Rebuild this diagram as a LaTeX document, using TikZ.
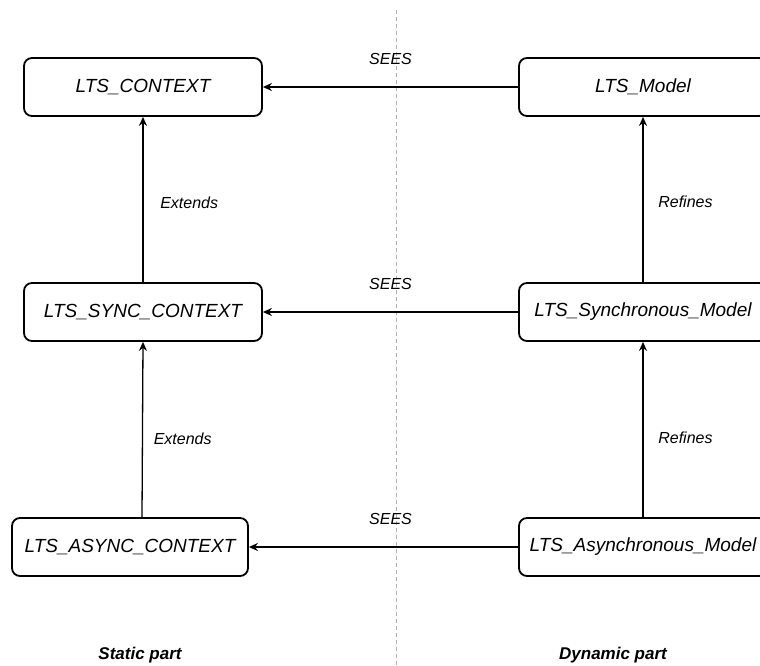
\documentclass[tikz,border=0pt]{standalone}
\usepackage{fontspec}
\setmainfont{Liberation Sans}
\usetikzlibrary{arrows.meta}
\newcommand{\boxFont}[0]{\fontsize{9.5}{11}\selectfont\itshape}
\newcommand{\labelFont}[0]{\fontsize{8}{10}\selectfont\itshape}

\begin{document}
\begin{tikzpicture}[x=0.5pt, y=-0.5pt]
  \tikzset{box/.style={draw, line width=0.9pt, rounded corners=4pt, minimum width=119pt,
                       minimum height=29pt, font=\boxFont},
           arr/.style={line width=0.65pt, -{Stealth[length=4.5pt,width=4pt]}},
           lbl/.style={font=\labelFont},
           part/.style={font=\fontsize{8.5}{10}\selectfont\bfseries\itshape}}
  \useasboundingbox (0,0) rectangle (760,665);
  \draw[gray!60, line width=0.5pt, dash pattern=on 2pt off 1.5pt] (396,10) -- (396,665);
  % static side
  \node[box] (ctx1) at (143,87) {LTS\_CONTEXT};
  \node[box] (ctx2) at (143,312) {LTS\_SYNC\_CONTEXT};
  \node[box, minimum width=118pt] (ctx3) at (130,547) {LTS\_ASYNC\_CONTEXT};
  % dynamic side
  \node[box, minimum width=124pt] (mdl1) at (643,87) {LTS\_Model};
  \node[box, minimum width=124pt] (mdl2) at (643,312) {LTS\_Synchronous\_Model};
  \node[box, minimum width=124pt] (mdl3) at (643,547) {LTS\_Asynchronous\_Model};
  \draw[arr] (mdl1) -- node[lbl, midway, above=7.5pt]{SEES} (ctx1);
  \draw[arr] (mdl2) -- node[lbl, midway, above=7.5pt]{SEES} (ctx2);
  \draw[arr] (mdl3) -- node[lbl, midway, above=7.5pt, xshift=3.5pt]{SEES} (ctx3);
  \draw[arr] (ctx2) -- node[lbl, midway, right=5pt, yshift=-1.5pt]{Extends} (ctx1);
  \draw[arr] ([xshift=6pt]ctx3.north) -- node[lbl, midway, right=2pt, yshift=-4.5pt]{Extends} (ctx2.south);
  \draw[arr] (mdl2) -- node[lbl, midway, right=4pt, yshift=-1pt]{Refines} (mdl1);
  \draw[arr] (mdl3) -- node[lbl, midway, right=4pt, yshift=-4pt]{Refines} (mdl2);
  \node[part] (stat) at (140,655) {Static part};
  \node[part] (dyn) at (613,655) {Dynamic part};
\end{tikzpicture}
\end{document}
